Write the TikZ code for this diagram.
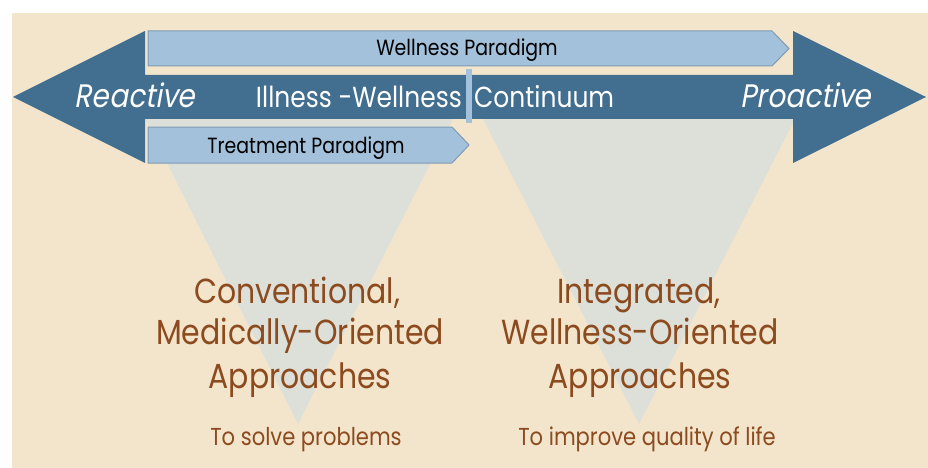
\documentclass[tikz,border=0pt]{standalone}
\usepackage{fontspec}
\newfontfamily\geo{Poppins}[FakeStretch=0.86]
\newfontfamily\geoslant{Poppins}[FakeStretch=0.86,FakeSlant=0.18]
\definecolor{paper}{HTML}{F3E5CC}
\definecolor{deepblue}{HTML}{426E8F}
\definecolor{barblue}{HTML}{A3C1DA}
\definecolor{barline}{HTML}{7E9BB3}
\definecolor{funnel}{HTML}{DDE0D8}
\definecolor{rust}{HTML}{8C4A1F}
\tikzset{
  barshape/.style={fill=barblue,draw=barline,line width=1pt,line join=miter},
  bartext/.style={font=\geo\fontsize{22}{22}\selectfont,text=black,inner sep=0pt},
  axistext/.style={font=\geo\fontsize{29}{29}\selectfont,text=white,inner sep=0pt},
  axisslant/.style={font=\geoslant\fontsize{32.5}{32.5}\selectfont,text=white,inner sep=0pt},
  headtext/.style={font=\geo\fontsize{34.8}{34.8}\selectfont,text=rust,inner sep=0pt},
  goaltext/.style={font=\geo\fontsize{24.5}{24.5}\selectfont,text=rust,inner sep=0pt},
}
\begin{document}
\begin{tikzpicture}[x=1pt,y=-1pt]
\useasboundingbox (0,0) rectangle (928,468);
% page and panel
\fill[white] (0,0) rectangle (928,468);
\fill[paper] (12,13) rectangle (928,468);
% two funnels hanging from the axis
\fill[funnel] (145,119) -- (453,119) -- (298,424) -- cycle;
\fill[funnel] (483,119) -- (795,119) -- (639,424) -- cycle;
% double-headed continuum arrow
\fill[deepblue] (13,97) -- (145,31) -- (145,75) -- (793,75) -- (793,31)
  -- (926,97) -- (793,163) -- (793,119) -- (145,119) -- (145,163) -- cycle;
% paradigm bars
\draw[barshape] (148,31) -- (772,31) -- (789,48.5) -- (772,66) -- (148,66) -- cycle;
\draw[barshape] (148,127) -- (452,127) -- (469,145) -- (452,163) -- (148,163) -- cycle;
% midpoint divider
\fill[barblue] (466,69) rectangle (472,123);
% labels
\node[bartext,anchor=base] (wellpar) at (467,56) {Wellness Paradigm};
\node[bartext,anchor=base] (treatpar) at (306,153) {Treatment Paradigm};
\node[axisslant,anchor=base] (reactive) at (135,107) {Reactive};
\node[axistext,anchor=base east] (illwell) at (462,107) {Illness -Wellness};
\node[axistext,anchor=base west] (contin) at (474,107) {Continuum};
\node[axisslant,anchor=base] (proactive) at (806,107) {Proactive};
% left funnel caption
\node[headtext,anchor=base] (conv) at (297,303) {Conventional,};
\node[headtext,anchor=base] (medor) at (300,344) {Medically-Oriented};
\node[headtext,anchor=base] (appl) at (300,388) {Approaches};
\node[goaltext,anchor=base] (solve) at (306,445) {To solve problems};
% right funnel caption
\node[headtext,anchor=base] (integ) at (639,303) {Integrated,};
\node[headtext,anchor=base] (wellor) at (640,344) {Wellness-Oriented};
\node[headtext,anchor=base] (appr) at (640,388) {Approaches};
\node[goaltext,anchor=base] (improve) at (647,445) {To improve quality of life};
\end{tikzpicture}
\end{document}
